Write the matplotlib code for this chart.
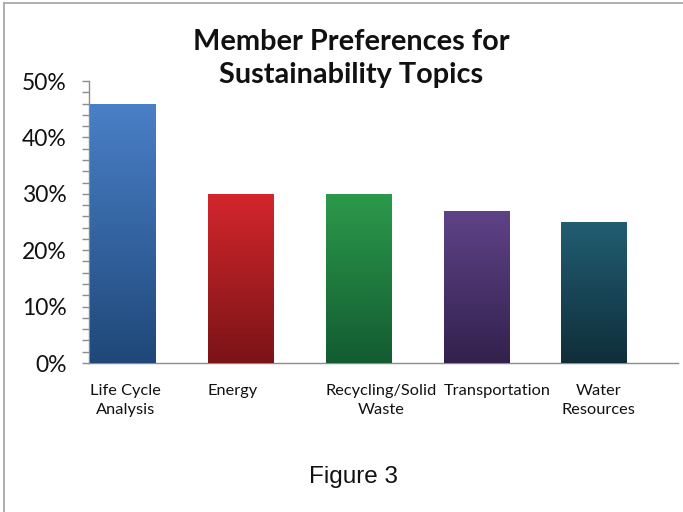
import numpy as np
import matplotlib
matplotlib.use("Agg")
import matplotlib.pyplot as plt
from matplotlib.colors import to_rgb
from matplotlib.lines import Line2D

# data
categories = ["Life Cycle\nAnalysis", "Energy", "Recycling/Solid\nWaste",
              "Transportation", "Water\nResources"]
values = [46, 30, 30, 27, 25]
top_colors = ["#4A80C8", "#D4262D", "#2C9A4A", "#5F4388", "#225D72"]
bottom_colors = ["#1F4879", "#7A1416", "#135C32", "#33214D", "#102E3A"]
y_ticks = [0, 10, 20, 30, 40, 50]

plt.rcParams['font.family'] = ['Lato', 'DejaVu Sans']

fig = plt.figure(figsize=(6.83, 5.12), dpi=100)
ax = fig.add_axes([89 / 683, 149 / 512, 589 / 683, 282 / 512])

x = np.arange(len(categories)) + 0.01
bars = ax.bar(x, values, width=0.553, align='edge', color=bottom_colors,
              edgecolor='none', zorder=2)

# vertical gradient on each bar
for bar, c_top, c_bot in zip(bars, top_colors, bottom_colors):
    t = np.linspace(0, 1, 256)[:, None, None]
    grad = (1 - t) * np.array(to_rgb(c_top)) + t * np.array(to_rgb(c_bot))
    x0, w, h = bar.get_x(), bar.get_width(), bar.get_height()
    im = ax.imshow(grad, extent=[x0, x0 + w, 0, h], aspect='auto',
                   origin='upper', zorder=3)
    im.set_clip_path(bar)

ax.set_xlim(0, 5)
ax.set_ylim(0, 50)

# axes styling
for s in ['top', 'right']:
    ax.spines[s].set_visible(False)
ax.spines['left'].set_color('#8C8C8C')
ax.spines['bottom'].set_color('#8C8C8C')
ax.spines['left'].set_linewidth(1.0)
ax.spines['bottom'].set_linewidth(1.0)

ax.set_yticks(y_ticks)
ax.set_yticklabels([f"{v}%" for v in y_ticks])
ax.set_yticks(np.arange(0, 51, 2), minor=True)
ax.tick_params(axis='y', which='both', direction='out', length=5,
               color='#8C8C8C', width=1.0, pad=11, labelsize=16.5,
               labelcolor='#111111')

ax.set_xticks(x)
ax.set_xticklabels(categories, ha='left', multialignment='center',
                   linespacing=1.5)
ax.tick_params(axis='x', length=0, pad=15, labelsize=11.8,
               labelcolor='#111111')

# title
fig.text(351 / 683, 1 - 29 / 512, "Member Preferences for\nSustainability Topics",
         ha='center', va='top', fontsize=20.8, fontweight='bold',
         color='#111111', linespacing=1.33)

# caption
fig.text(353 / 683, 1 - 483 / 512, "Figure 3", ha='center', va='baseline',
         fontsize=17.5, family='Liberation Sans', color='#111111')

# frame lines at top and left edge
fig.add_artist(Line2D([4 / 683, 1], [1 - 3 / 512, 1 - 3 / 512],
                      transform=fig.transFigure, color='#A8A8A8', lw=1.3))
fig.add_artist(Line2D([4 / 683, 4 / 683], [0, 1 - 3 / 512],
                      transform=fig.transFigure, color='#A8A8A8', lw=1.3))

fig.savefig("out.png", dpi=100)
